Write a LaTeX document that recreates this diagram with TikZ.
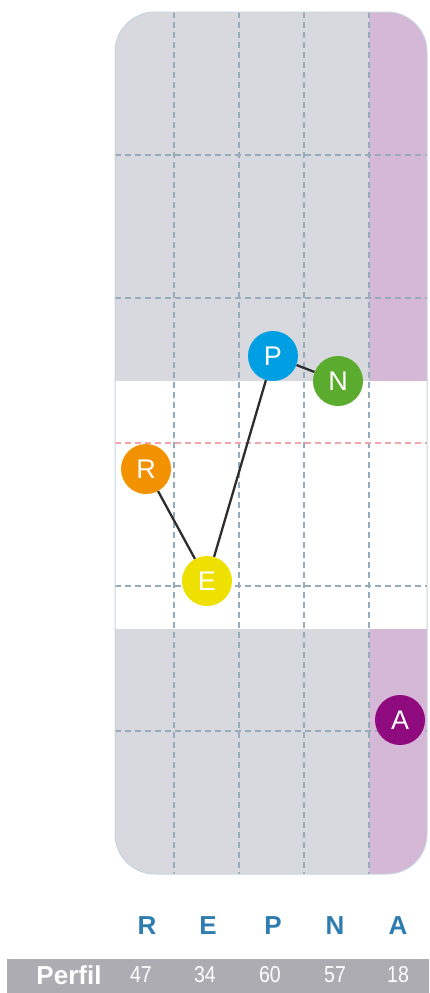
\documentclass[tikz,border=0pt]{standalone}
\usepackage{fontspec}
\setmainfont{Liberation Sans}
\definecolor{pgray}{RGB}{216,217,222}
\definecolor{ppurple}{RGB}{212,184,214}
\definecolor{gridc}{RGB}{150,172,186}
\definecolor{redc}{RGB}{244,165,170}
\definecolor{borderc}{RGB}{200,212,222}
\definecolor{linkc}{RGB}{45,45,45}
\definecolor{cR}{RGB}{243,146,0}
\definecolor{cE}{RGB}{238,224,0}
\definecolor{cP}{RGB}{0,159,227}
\definecolor{cN}{RGB}{91,172,46}
\definecolor{cA}{RGB}{142,10,126}
\definecolor{labc}{RGB}{46,125,176}
\definecolor{barc}{RGB}{172,172,178}
\begin{document}
\begin{tikzpicture}[x=1pt,y=-1pt,
  gridline/.style={draw=gridc,line width=1.1pt,dash pattern=on 6pt off 4pt},
  redline/.style={draw=redc,line width=1.2pt,dash pattern=on 6pt off 4pt},
  dot/.style={circle,minimum size=50pt,inner sep=0pt,text=white,font=\fontsize{27}{27}\selectfont},
  link/.style={draw=linkc,line width=2.3pt},
  collabel/.style={font=\fontsize{26}{26}\bfseries\selectfont,text=labc},
  numlabel/.style={font=\fontsize{23}{23}\selectfont,text=white,xscale=0.85}
]
\useasboundingbox (0,0) rectangle (429,993);
% panel
\begin{scope}
  \clip[rounded corners=40pt] (115,12) rectangle (427,874);
  \fill[pgray] (115,12) rectangle (427,874);
  \fill[ppurple] (369,12) rectangle (427,874);
  \fill[white] (115,381) rectangle (427,629);
  \foreach \x in {174,239,304,369} \draw[gridline] (\x,12) -- (\x,874);
  \foreach \y in {155,298,586,731} \draw[gridline] (115,\y) -- (427,\y);
  \draw[redline] (115,443) -- (427,443);
\end{scope}
\draw[borderc,line width=1pt,rounded corners=40pt] (115,12) rectangle (427,874);
% nodes
\node[dot,fill=cR] (R) at (146,469) {R};
\node[dot,fill=cE] (E) at (207,581) {E};
\node[dot,fill=cP] (P) at (273,356) {P};
\node[dot,fill=cN] (N) at (338,381) {N};
\node[dot,fill=cA] (A) at (400,720) {A};
\draw[link] (R) -- (E);
\draw[link] (E) -- (P);
\draw[link] (P) -- (N);
% column labels
\node[collabel] (lR) at (147,926) {R};
\node[collabel] (lE) at (208,926) {E};
\node[collabel] (lP) at (273,926) {P};
\node[collabel] (lN) at (335,926) {N};
\node[collabel] (lA) at (398,926) {A};
% bottom bar
\fill[barc] (7,959) rectangle (429,993);
\node[font=\fontsize{26}{26}\bfseries\selectfont,text=white] (perfil) at (69,975) {Perfil};
\node[numlabel] (n1) at (141,975) {47};
\node[numlabel] (n2) at (205,975) {34};
\node[numlabel] (n3) at (270,975) {60};
\node[numlabel] (n4) at (335,975) {57};
\node[numlabel] (n5) at (398,975) {18};
\end{tikzpicture}
\end{document}
